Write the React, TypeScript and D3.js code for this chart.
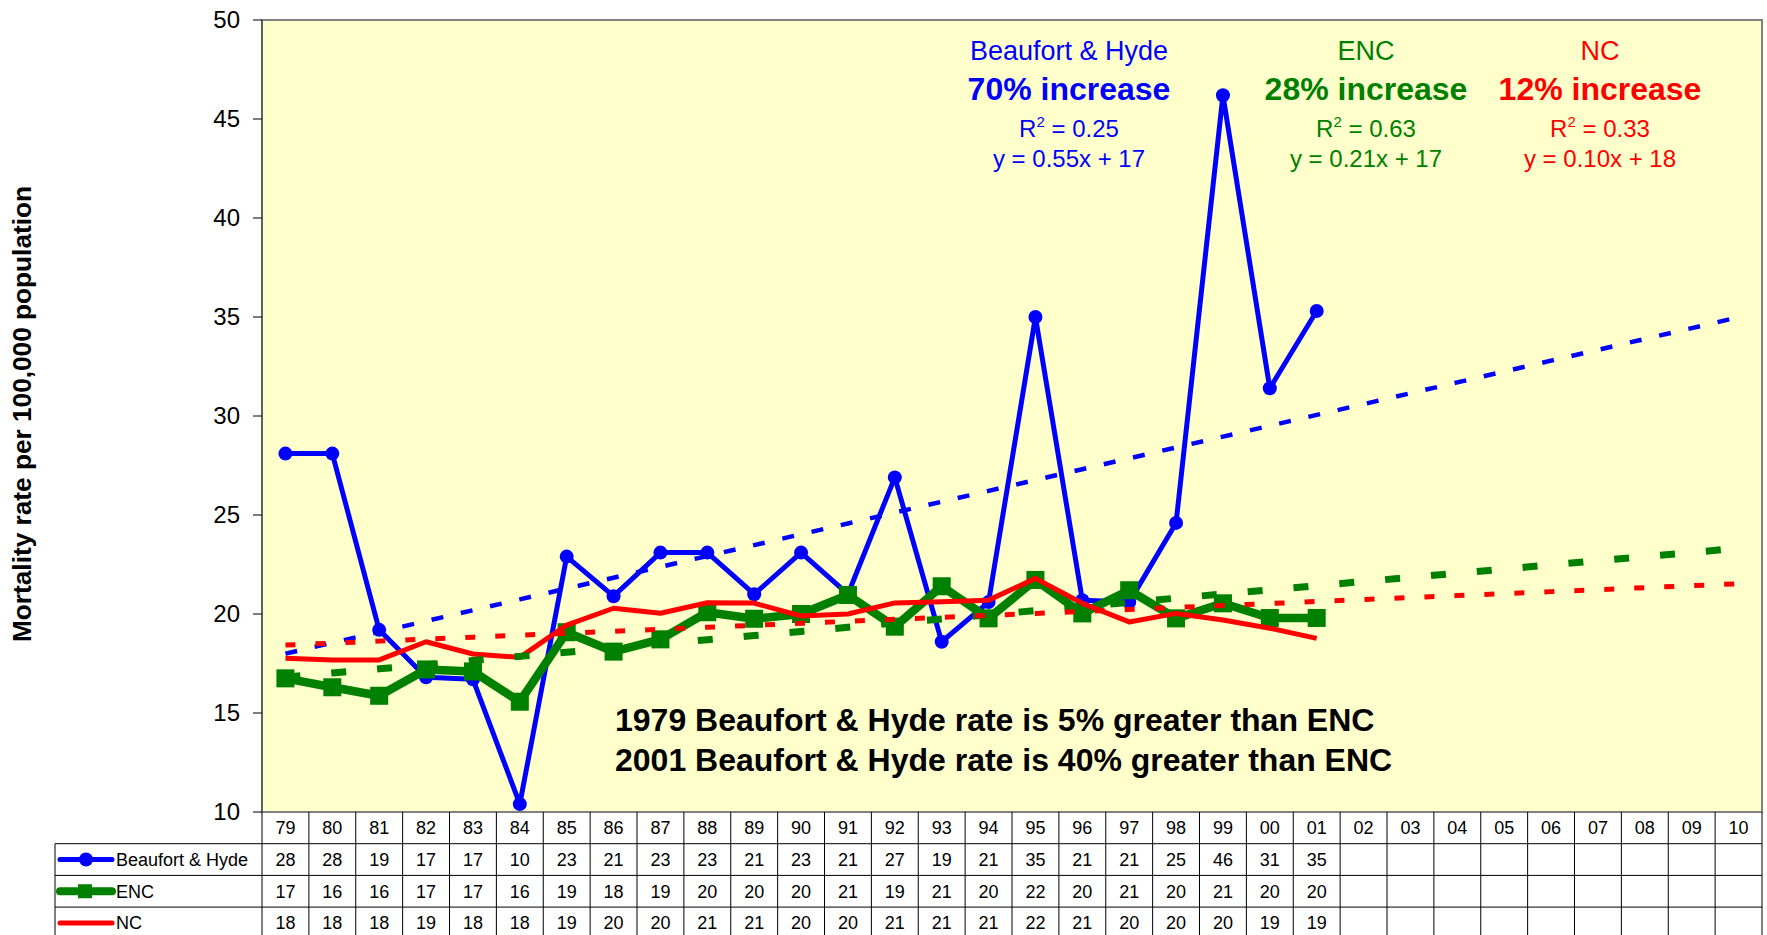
import React from 'react';
import * as d3 from 'd3';

// x categories (two-digit years) and the three series
const years = ['79', '80', '81', '82', '83', '84', '85', '86', '87', '88', '89', '90', '91', '92', '93', '94', '95', '96', '97', '98', '99', '00', '01', '02', '03', '04', '05', '06', '07', '08', '09', '10'];
const beaufortHyde = [28.1, 28.1, 19.2, 16.8, 16.7, 10.4, 22.9, 20.9, 23.1, 23.1, 21.0, 23.1, 21.0, 26.9, 18.6, 20.6, 35.0, 20.7, 20.6, 24.6, 46.2, 31.4, 35.3];
const enc = [16.75, 16.3, 15.87, 17.2, 17.1, 15.57, 19.08, 18.1, 18.72, 20.09, 19.76, 20.0, 20.96, 19.36, 21.4, 19.78, 21.72, 20.03, 21.2, 19.78, 20.54, 19.8, 19.8];
const nc = [17.76, 17.68, 17.68, 18.6, 17.98, 17.81, 19.44, 20.29, 20.04, 20.57, 20.55, 19.9, 20.0, 20.56, 20.62, 20.7, 21.8, 20.54, 19.6, 20.03, 19.7, 19.28, 18.77];

// linear trend [slope, intercept], x = 1..32
const bhTrend = [0.548, 17.45];
const encTrend = [0.21, 16.6];
const ncTrend = [0.10, 18.33];

const seriesNames = ['Beaufort & Hyde', 'ENC', 'NC'];
const increaseLabels = ['70% increase', '28% increase', '12% increase'];
const r2Labels = ['0.25', '0.63', '0.33'];
const eqLabels = ['y = 0.55x + 17', 'y = 0.21x + 17', 'y = 0.10x + 18'];
const notes = ['1979 Beaufort & Hyde rate is 5% greater than ENC', '2001 Beaufort & Hyde rate is 40% greater than ENC'];

const BLUE = '#0000ff', GREEN = '#008000', RED = '#ff0000';
const FONT = '"Liberation Sans", Arial, sans-serif';

const W = 1767, H = 935;
const left = 262, right = 1762, top = 20, bottom = 812;
const rowH = 31.7;
const tableLeft = 55;

const App = () => {
  const x = d3.scaleBand().domain(years).range([left, right]);
  const y = d3.scaleLinear().domain([10, 50]).range([bottom, top]);
  const bw = x.bandwidth();
  const cx = (i: number) => (x(years[i]) as number) + bw / 2;

  const line = d3.line<number>().x((d, i) => cx(i)).y(d => y(d));
  const trendLine = (c: number[]) => {
    const pts = years.map((_, i) => c[0] * (i + 1) + c[1]);
    return line(pts) as string;
  };

  const yTicks = y.ticks(8);
  const colors = [BLUE, GREEN, RED];
  const data = [beaufortHyde, enc, nc];
  const annX = [1069, 1366, 1600];

  const rowY = (r: number) => bottom + rowH * r;

  return (
    <div style={{ position: 'absolute', left: 0, top: 0 }}>
      <svg width={W} height={H} style={{ display: 'block', fontFamily: FONT }}>
        <rect x={0} y={0} width={W} height={H} fill="#fff" />
        {/* plot area */}
        <rect x={left} y={top} width={right - left} height={bottom - top} fill="#ffffcc" stroke="#808080" strokeWidth={2} />
        <line x1={left} x2={left} y1={top} y2={bottom} stroke="#606060" strokeWidth={2} />

        {/* y axis */}
        {yTicks.map(t => (
          <g key={t}>
            <line x1={253} x2={left} y1={y(t)} y2={y(t)} stroke="#000" />
            <text x={240} y={y(t)} dy="0.35em" textAnchor="end" fontSize={24}>{t}</text>
          </g>
        ))}
        <text transform={`translate(31,414) rotate(-90)`} textAnchor="middle" fontSize={26} fontWeight="bold" textLength={456} lengthAdjust="spacingAndGlyphs">
          Mortality rate per 100,000 population
        </text>

        {/* series */}
        <path d={line(beaufortHyde) as string} fill="none" stroke={BLUE} strokeWidth={5} strokeLinejoin="round" />
        {beaufortHyde.map((v, i) => <circle key={'b' + i} cx={cx(i)} cy={y(v)} r={7} fill={BLUE} />)}
        <path d={line(enc) as string} fill="none" stroke={GREEN} strokeWidth={8.5} strokeLinejoin="round" />
        {enc.map((v, i) => <rect key={'g' + i} x={cx(i) - 9} y={y(v) - 9} width={18} height={18} fill={GREEN} />)}
        <path d={line(nc) as string} fill="none" stroke={RED} strokeWidth={5} strokeLinejoin="round" />

        {/* trend lines */}
        <path d={trendLine(bhTrend)} fill="none" stroke={BLUE} strokeWidth={4.5} strokeDasharray="12 18" />
        <path d={trendLine(encTrend)} fill="none" stroke={GREEN} strokeWidth={7} strokeDasharray="15 31" />
        <path d={trendLine(ncTrend)} fill="none" stroke={RED} strokeWidth={5} strokeDasharray="10 20" />

        {/* annotations */}
        {seriesNames.map((n, k) => (
          <g key={n} fill={colors[k]} textAnchor="middle">
            <text x={annX[k]} y={60} fontSize={27}>{n}</text>
            <text x={annX[k]} y={100} fontSize={32} fontWeight="bold">{increaseLabels[k]}</text>
            <text x={annX[k]} y={137} fontSize={24}>R<tspan fontSize={15} dy={-10}>2</tspan><tspan dy={10}> = {r2Labels[k]}</tspan></text>
            <text x={annX[k]} y={167} fontSize={24}>{eqLabels[k]}</text>
          </g>
        ))}
        {notes.map((n, k) => (
          <text key={n} x={615} y={731 + k * 40} fontSize={32} fontWeight="bold">{n}</text>
        ))}

        {/* data table */}
        <g stroke="#000" strokeWidth={1}>
          {years.map((yr, i) => (
            <line key={yr} x1={(x(yr) as number) + bw} x2={(x(yr) as number) + bw} y1={bottom} y2={H} />
          ))}
          <line x1={left} x2={left} y1={bottom} y2={H} />
          <line x1={tableLeft} x2={tableLeft} y1={rowY(1)} y2={H} />
          {[1, 2, 3].map(r => <line key={r} x1={tableLeft} x2={right} y1={rowY(r)} y2={rowY(r)} />)}
        </g>
        {years.map((yr, i) => (
          <text key={yr} x={cx(i)} y={rowY(0.5)} dy="0.35em" textAnchor="middle" fontSize={18}>{yr}</text>
        ))}
        {data.map((s, r) => (
          <g key={r}>
            {s.map((v, i) => (
              <text key={i} x={cx(i)} y={rowY(r + 1.5)} dy="0.35em" textAnchor="middle" fontSize={18}>{Math.round(v)}</text>
            ))}
            <line x1={60} x2={112} y1={rowY(r + 1.5)} y2={rowY(r + 1.5)} stroke={colors[r]} strokeWidth={r === 1 ? 8 : 5} strokeLinecap="round" />
            {r === 0 && <circle cx={86} cy={rowY(1.5)} r={7} fill={BLUE} />}
            {r === 1 && <rect x={78} y={rowY(2.5) - 7} width={14} height={14} fill={GREEN} />}
            <text x={116} y={rowY(r + 1.5)} dy="0.35em" fontSize={18}>{seriesNames[r]}</text>
          </g>
        ))}
      </svg>
    </div>
  );
};

export default App;
